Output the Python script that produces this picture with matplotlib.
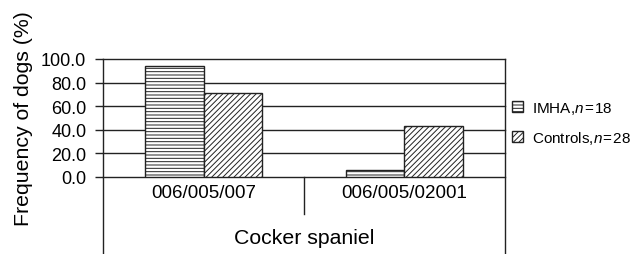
import matplotlib
matplotlib.use("Agg")
import matplotlib.pyplot as plt
import numpy as np

# data
haplotypes = ["006/005/007", "006/005/02001"]
breed = "Cocker spaniel"
imha = [94.4, 5.6]
controls = [71.4, 42.9]
series_labels = ["IMHA,$n$\u200a=\u200a18", "Controls,$n$\u200a=\u200a28"]
y_ticks = [0, 20, 40, 60, 80, 100]

plt.rcParams["font.family"] = ["Liberation Sans", "DejaVu Sans"]
plt.rcParams["mathtext.fontset"] = "custom"
plt.rcParams["mathtext.rm"] = "Liberation Sans"
plt.rcParams["mathtext.it"] = "Liberation Sans:italic"
plt.rcParams["hatch.linewidth"] = 0.7
plt.rcParams["hatch.color"] = "#222222"

fig = plt.figure(figsize=(6.36, 2.55), dpi=100)
ax = fig.add_axes([0.162, 0.302, 0.632, 0.463])

x = np.arange(len(haplotypes))
w = 0.29
ax.bar(x - w / 2, imha, w, color="white", edgecolor="#222222", linewidth=1,
       hatch="-----", label=series_labels[0], zorder=3)
ax.bar(x + w / 2, controls, w, color="white", edgecolor="#222222", linewidth=1,
       hatch="//////", label=series_labels[1], zorder=3)

ax.set_xlim(-0.5, 1.5)
ax.set_ylim(0, 100)
ax.set_yticks(y_ticks)
ax.set_yticklabels([f"{v:.1f}" for v in y_ticks], fontsize=13)
ax.yaxis.grid(True, color="#222222", linewidth=1)
for gl in ax.get_ygridlines():
    gl.set_clip_on(False)
ax.set_axisbelow(True)
ax.tick_params(axis="y", length=6, width=1, color="#222222", pad=6)
ax.tick_params(axis="x", length=0)
ax.set_xticks([])

for s in ["top", "bottom", "left", "right"]:
    ax.spines[s].set_visible(False)

# multi-level category axis lines
trans = ax.get_xaxis_transform()
ax.plot([-0.5, -0.5], [1, -1.65], transform=trans, color="#222222", lw=1, clip_on=False)
ax.plot([1.5, 1.5], [1, -1.65], transform=trans, color="#222222", lw=1, clip_on=False)
ax.plot([0.5, 0.5], [0, -0.31], transform=trans, color="#222222", lw=1, clip_on=False)

for xi, lab in zip(x, haplotypes):
    ax.text(xi, -0.13, lab, transform=trans, ha="center", va="center", fontsize=13.5)
ax.text(0.5, -0.51, breed, transform=trans, ha="center", va="center", fontsize=15.3)

ax.set_ylabel("Frequency of dogs (%)", fontsize=15.3)
ax.yaxis.set_label_coords(-0.174, 0.505)

ax.legend(loc="center left", bbox_to_anchor=(0.805, 0.515), bbox_transform=fig.transFigure,
          frameon=False, fontsize=11, handlelength=0.7, handleheight=0.7,
          handletextpad=0.6, labelspacing=0.85, borderpad=0, borderaxespad=0)

fig.savefig("out.png", dpi=100)
